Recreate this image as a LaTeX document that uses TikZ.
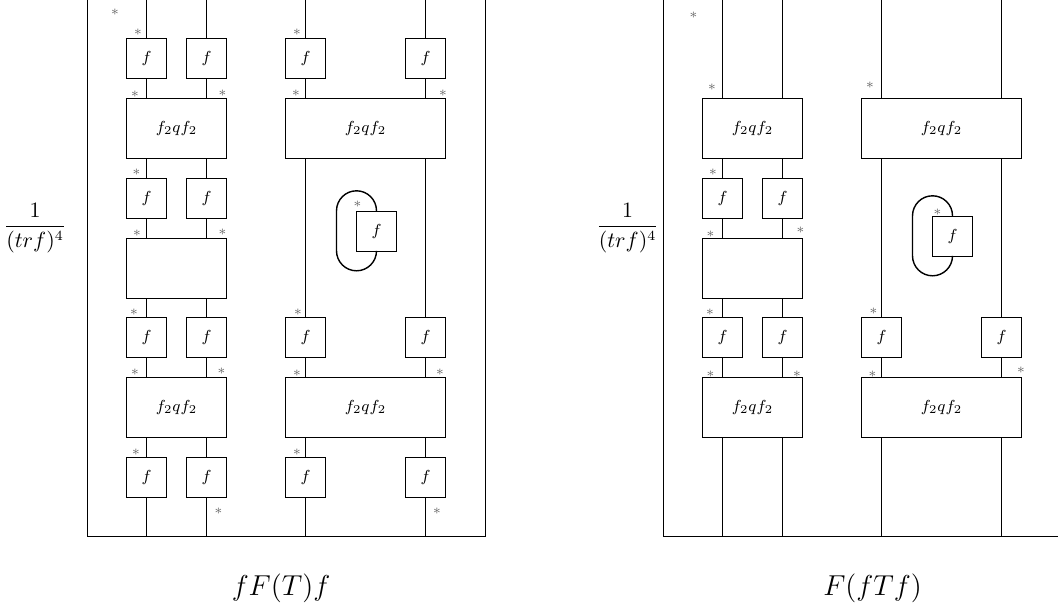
\documentclass[tikz,border=0pt]{standalone}
\begin{document}
\begin{tikzpicture}[x=0.5pt,y=-0.5pt,line width=0.7pt,
  fb/.style={draw,minimum width=20pt,minimum height=20pt,inner sep=0pt,font=\footnotesize},
  bb/.style={draw,minimum width=50pt,minimum height=30pt,inner sep=0pt,font=\footnotesize},
  wb/.style={draw,minimum width=80pt,minimum height=30pt,inner sep=0pt,font=\footnotesize},
  st/.style={inner sep=0pt,font=\scriptsize,text=black!60},
  fr/.style={inner sep=0pt,font=\fontsize{10.5}{12}\selectfont},
  captxt/.style={inner sep=0pt,font=\fontsize{14.5}{17}\selectfont}]
\useasboundingbox (0,0) rectangle (1058,610);
\clip (0,0) rectangle (1058,610);
% ================= LEFT DIAGRAM =================
\draw (87.5,-10) -- (87.5,536.5) -- (485.5,536.5) -- (485.5,-10);
\coordinate (Lt1) at (146.5,-10); \coordinate (Lt2) at (206.5,-10);
\coordinate (Lt3) at (305.5,-10); \coordinate (Lt4) at (425.5,-10);
\coordinate (Lb1) at (146.5,536.5); \coordinate (Lb2) at (206.5,536.5);
\coordinate (Lb3) at (305.5,536.5); \coordinate (Lb4) at (425.5,536.5);
\node[fb] (Lf11) at (146.5,58.5) {$f$};
\node[fb] (Lf12) at (206.5,58.5) {$f$};
\node[fb] (Lg11) at (305.5,58.5) {$f$};
\node[fb] (Lg12) at (425.5,58.5) {$f$};
\node[bb] (LB1) at (176.5,128.5) {$f_2qf_2$};
\node[wb] (LC1) at (365.5,128.5) {$f_2qf_2$};
\node[fb] (Lf21) at (146.5,198.5) {$f$};
\node[fb] (Lf22) at (206.5,198.5) {$f$};
\node[bb] (LB2) at (176.5,268.5) {};
\node[fb] (Lf31) at (146.5,337.5) {$f$};
\node[fb] (Lf32) at (206.5,337.5) {$f$};
\node[fb] (Lg31) at (305.5,337.5) {$f$};
\node[fb] (Lg32) at (425.5,337.5) {$f$};
\node[bb] (LB3) at (176.5,407.5) {$f_2qf_2$};
\node[wb] (LC3) at (365.5,407.5) {$f_2qf_2$};
\node[fb] (Lf41) at (146.5,477.5) {$f$};
\node[fb] (Lf42) at (206.5,477.5) {$f$};
\node[fb] (Lg41) at (305.5,477.5) {$f$};
\node[fb] (Lg42) at (425.5,477.5) {$f$};
\node[fb] (Lh) at (376.5,231.5) {$f$};
% wires
\draw (Lt1) -- (Lf11.north) (Lf11.south) -- (Lf11 |- LB1.north)
      (Lf11 |- LB1.south) -- (Lf21.north) (Lf21.south) -- (Lf21 |- LB2.north)
      (Lf21 |- LB2.south) -- (Lf31.north) (Lf31.south) -- (Lf31 |- LB3.north)
      (Lf31 |- LB3.south) -- (Lf41.north) (Lf41.south) -- (Lb1);
\draw (Lt2) -- (Lf12.north) (Lf12.south) -- (Lf12 |- LB1.north)
      (Lf12 |- LB1.south) -- (Lf22.north) (Lf22.south) -- (Lf22 |- LB2.north)
      (Lf22 |- LB2.south) -- (Lf32.north) (Lf32.south) -- (Lf32 |- LB3.north)
      (Lf32 |- LB3.south) -- (Lf42.north) (Lf42.south) -- (Lb2);
\draw (Lt3) -- (Lg11.north) (Lg11.south) -- (Lg11 |- LC1.north)
      (Lg11 |- LC1.south) -- (Lg31.north) (Lg31.south) -- (Lg31 |- LC3.north)
      (Lg31 |- LC3.south) -- (Lg41.north) (Lg41.south) -- (Lb3);
\draw (Lt4) -- (Lg12.north) (Lg12.south) -- (Lg12 |- LC1.north)
      (Lg12 |- LC1.south) -- (Lg32.north) (Lg32.south) -- (Lg32 |- LC3.north)
      (Lg32 |- LC3.south) -- (Lg42.north) (Lg42.south) -- (Lb4);
\draw (Lh.north) arc[start angle=0,end angle=-180,radius=20] -- ++(0,40)
      arc[start angle=180,end angle=0,radius=20];
% stars
\node[st] (Ls1) at (115,12) {$\ast$};
\node[st] (Ls2) at (138,32) {$\ast$};
\node[st] (Ls3) at (297,32) {$\ast$};
\node[st] (Ls4) at (135,94) {$\ast$};
\node[st] (Ls5) at (222.5,93) {$\ast$};
\node[st] (Ls6) at (296,93) {$\ast$};
\node[st] (Ls7) at (443,93) {$\ast$};
\node[st] (Ls8) at (136.5,172) {$\ast$};
\node[st] (Ls9) at (137,233) {$\ast$};
\node[st] (Ls10) at (222.5,232) {$\ast$};
\node[st] (Ls11) at (134,312.5) {$\ast$};
\node[st] (Ls12) at (298,312) {$\ast$};
\node[st] (Ls13) at (135,372.5) {$\ast$};
\node[st] (Ls14) at (221.5,371) {$\ast$};
\node[st] (Ls15) at (297,373) {$\ast$};
\node[st] (Ls16) at (440,372) {$\ast$};
\node[st] (Ls17) at (136,452) {$\ast$};
\node[st] (Ls18) at (297,452) {$\ast$};
\node[st] (Ls19) at (218.5,511.5) {$\ast$};
\node[st] (Ls20) at (437,511.5) {$\ast$};
\node[st] (Ls21) at (357.5,204) {$\ast$};
\node[fr] (Lfrac) at (35,228) {$\displaystyle\frac{1}{(trf)^4}$};
\node[captxt] (Lcap) at (281,588) {$fF(T)f$};
% ================= RIGHT DIAGRAM =================
\draw (663.5,-10) -- (663.5,536.5) -- (1061.5,536.5) -- (1061.5,-10);
\coordinate (Rt1) at (722.5,-10); \coordinate (Rt2) at (782.5,-10);
\coordinate (Rt3) at (881.5,-10); \coordinate (Rt4) at (1001.5,-10);
\coordinate (Rb1) at (722.5,536.5); \coordinate (Rb2) at (782.5,536.5);
\coordinate (Rb3) at (881.5,536.5); \coordinate (Rb4) at (1001.5,536.5);
\node[bb] (RB1) at (752.5,128.5) {$f_2qf_2$};
\node[wb] (RC1) at (941.5,128.5) {$f_2qf_2$};
\node[fb] (Rf21) at (722.5,198.5) {$f$};
\node[fb] (Rf22) at (782.5,198.5) {$f$};
\node[bb] (RB2) at (752.5,268.5) {};
\node[fb] (Rf31) at (722.5,337.5) {$f$};
\node[fb] (Rf32) at (782.5,337.5) {$f$};
\node[fb] (Rg31) at (881.5,337.5) {$f$};
\node[fb] (Rg32) at (1001.5,337.5) {$f$};
\node[bb] (RB3) at (752.5,407.5) {$f_2qf_2$};
\node[wb] (RC3) at (941.5,407.5) {$f_2qf_2$};
\node[fb] (Rh) at (952.5,236.5) {$f$};
\draw (Rt1) -- (Rt1 |- RB1.north) (Rt1 |- RB1.south) -- (Rf21.north)
      (Rf21.south) -- (Rf21 |- RB2.north) (Rf21 |- RB2.south) -- (Rf31.north)
      (Rf31.south) -- (Rf31 |- RB3.north) (Rf31 |- RB3.south) -- (Rb1);
\draw (Rt2) -- (Rt2 |- RB1.north) (Rt2 |- RB1.south) -- (Rf22.north)
      (Rf22.south) -- (Rf22 |- RB2.north) (Rf22 |- RB2.south) -- (Rf32.north)
      (Rf32.south) -- (Rf32 |- RB3.north) (Rf32 |- RB3.south) -- (Rb2);
\draw (Rt3) -- (Rt3 |- RC1.north) (Rt3 |- RC1.south) -- (Rg31.north)
      (Rg31.south) -- (Rg31 |- RC3.north) (Rg31 |- RC3.south) -- (Rb3);
\draw (Rt4) -- (Rt4 |- RC1.north) (Rt4 |- RC1.south) -- (Rg32.north)
      (Rg32.south) -- (Rg32 |- RC3.north) (Rg32 |- RC3.south) -- (Rb4);
\draw (Rh.north) arc[start angle=0,end angle=-180,radius=20] -- ++(0,40)
      arc[start angle=180,end angle=0,radius=20];
\node[st] (Rs1) at (693.5,15) {$\ast$};
\node[st] (Rs2) at (712,87) {$\ast$};
\node[st] (Rs3) at (870,85) {$\ast$};
\node[st] (Rs4) at (713,172) {$\ast$};
\node[st] (Rs5) at (710.5,234) {$\ast$};
\node[st] (Rs6) at (800.5,230) {$\ast$};
\node[st] (Rs7) at (710,312.5) {$\ast$};
\node[st] (Rs8) at (873.5,311) {$\ast$};
\node[st] (Rs9) at (710.5,374) {$\ast$};
\node[st] (Rs10) at (797,374) {$\ast$};
\node[st] (Rs11) at (872.5,374) {$\ast$};
\node[st] (Rs12) at (1021,370.5) {$\ast$};
\node[st] (Rs13) at (937.5,212) {$\ast$};
\node[fr] (Rfrac) at (627.5,228) {$\displaystyle\frac{1}{(trf)^4}$};
\node[captxt] (Rcap) at (872.5,588) {$F(fTf)$};
\end{tikzpicture}
\end{document}
